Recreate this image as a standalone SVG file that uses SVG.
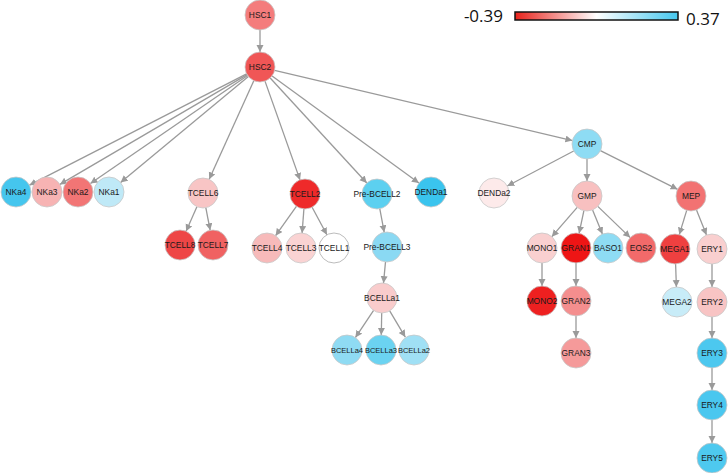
<svg xmlns="http://www.w3.org/2000/svg" width="728" height="473" viewBox="0 0 728 473">
<style>
.e{stroke:#9a9a9a;stroke-width:1.3;fill:none;marker-end:url(#ah)}
.n circle{stroke:#c8c8c8;stroke-width:0.8}
.n text{font-family:"Liberation Sans",Arial,sans-serif;font-size:8.4px;fill:#1a1a1a;text-anchor:middle;dominant-baseline:central}
.n text.s{font-size:7.5px}
.lg{font-family:"Open Sans","Liberation Sans",sans-serif;font-size:17px;fill:#111}
</style>
<defs>
<marker id="ah" markerUnits="userSpaceOnUse" markerWidth="8" markerHeight="8" refX="7" refY="3.5" orient="auto">
<path d="M0,0 L7,3.5 L0,7 Z" fill="#9a9a9a"/>
</marker>
<linearGradient id="cb" x1="0" y1="0" x2="1" y2="0">
<stop offset="0" stop-color="#e8231c"/>
<stop offset="0.5" stop-color="#ffffff"/>
<stop offset="1" stop-color="#45c7ee"/>
</linearGradient>
</defs>
<rect width="728" height="473" fill="#fff"/>
<g id="legend">
<text class="lg" x="503" y="22" text-anchor="end">-0.39</text>
<rect x="515" y="12" width="163" height="8" fill="url(#cb)" stroke="#111" stroke-width="1.5"/>
<text class="lg" x="686" y="25">0.37</text>
</g>
<g id="edges">
<line class="e" x1="260" y1="30" x2="260" y2="52"/>
<line class="e" x1="246.6" y1="73.8" x2="29.4" y2="185.2"/>
<line class="e" x1="247.1" y1="74.6" x2="59.9" y2="184.4"/>
<line class="e" x1="247.6" y1="75.5" x2="90.4" y2="183.5"/>
<line class="e" x1="248.4" y1="76.6" x2="120.6" y2="182.4"/>
<line class="e" x1="253.8" y1="80.7" x2="209.2" y2="179.3"/>
<line class="e" x1="265" y1="81.1" x2="300" y2="179.9"/>
<line class="e" x1="270.2" y1="78" x2="366.8" y2="183"/>
<line class="e" x1="272.1" y1="75.9" x2="418.9" y2="183.1"/>
<line class="e" x1="274.6" y1="70.4" x2="572.4" y2="140.6"/>
<line class="e" x1="196.9" y1="206.7" x2="186.1" y2="231.3"/>
<line class="e" x1="205.8" y1="207.7" x2="210.2" y2="230.3"/>
<line class="e" x1="296.4" y1="206.3" x2="275.6" y2="235.7"/>
<line class="e" x1="303.9" y1="209" x2="302.1" y2="233"/>
<line class="e" x1="312.1" y1="207.2" x2="326.9" y2="234.8"/>
<line class="e" x1="379.8" y1="208.7" x2="384.2" y2="232.3"/>
<line class="e" x1="385.5" y1="261.9" x2="383.5" y2="283.1"/>
<line class="e" x1="373.6" y1="310.4" x2="355.4" y2="337.6"/>
<line class="e" x1="381.7" y1="313" x2="381.3" y2="335"/>
<line class="e" x1="389.7" y1="310.9" x2="405.3" y2="337.1"/>
<line class="e" x1="573.7" y1="151" x2="507.3" y2="186"/>
<line class="e" x1="587" y1="159" x2="587" y2="181"/>
<line class="e" x1="600.4" y1="150.7" x2="677.6" y2="189.3"/>
<line class="e" x1="577.2" y1="207.3" x2="551.8" y2="236.7"/>
<line class="e" x1="583.9" y1="210.7" x2="579.1" y2="233.3"/>
<line class="e" x1="592.6" y1="209.9" x2="602.4" y2="234.1"/>
<line class="e" x1="597.8" y1="206.4" x2="630.2" y2="237.6"/>
<line class="e" x1="542" y1="263" x2="542" y2="286"/>
<line class="e" x1="576" y1="263" x2="576" y2="286"/>
<line class="e" x1="576" y1="316" x2="576" y2="338"/>
<line class="e" x1="686.7" y1="210.4" x2="679.3" y2="234.6"/>
<line class="e" x1="696.5" y1="210" x2="706.5" y2="235"/>
<line class="e" x1="675.6" y1="264" x2="676.4" y2="287"/>
<line class="e" x1="712" y1="264" x2="712" y2="287"/>
<line class="e" x1="712" y1="317" x2="712" y2="338"/>
<line class="e" x1="712" y1="368" x2="712" y2="390"/>
<line class="e" x1="712" y1="420" x2="712" y2="443"/>
</g>
<g id="HSC1" class="n"><circle cx="260" cy="15" r="15" fill="#f47c7c"/><text x="260" y="15">HSC1</text></g>
<g id="HSC2" class="n"><circle cx="260" cy="67" r="15" fill="#f05656"/><text x="260" y="67">HSC2</text></g>
<g id="NKa4" class="n"><circle cx="16" cy="192" r="15" fill="#45c6ee"/><text x="16" y="192">NKa4</text></g>
<g id="NKa3" class="n"><circle cx="47" cy="192" r="15" fill="#f7b3b3"/><text x="47" y="192">NKa3</text></g>
<g id="NKa2" class="n"><circle cx="78" cy="192" r="15" fill="#f27575"/><text x="78" y="192">NKa2</text></g>
<g id="NKa1" class="n"><circle cx="109" cy="192" r="15" fill="#bfe9f7"/><text x="109" y="192">NKa1</text></g>
<g id="TCELL6" class="n"><circle cx="203" cy="193" r="15" fill="#f8c5c5"/><text x="203" y="193">TCELL6</text></g>
<g id="TCELL8" class="n"><circle cx="180" cy="245" r="15" fill="#ee4646"/><text x="180" y="245">TCELL8</text></g>
<g id="TCELL7" class="n"><circle cx="213" cy="245" r="15" fill="#f06262"/><text x="213" y="245">TCELL7</text></g>
<g id="TCELL2" class="n"><circle cx="305" cy="194" r="15" fill="#ee2a2a"/><text x="305" y="194">TCELL2</text></g>
<g id="TCELL4" class="n"><circle cx="267" cy="248" r="15" fill="#f7baba"/><text x="267" y="248">TCELL4</text></g>
<g id="TCELL3" class="n"><circle cx="301" cy="248" r="15" fill="#fad3d3"/><text x="301" y="248">TCELL3</text></g>
<g id="TCELL1" class="n"><circle cx="334" cy="248" r="15" fill="#ffffff" style="stroke:#aaa"/><text x="334" y="248">TCELL1</text></g>
<g id="Pre-BCELL2" class="n"><circle cx="377" cy="194" r="15" fill="#5cd0f0"/><text x="377" y="194">Pre-BCELL2</text></g>
<g id="DENDa1" class="n"><circle cx="431" cy="192" r="15" fill="#3ac4ee"/><text x="431" y="192">DENDa1</text></g>
<g id="Pre-BCELL3" class="n"><circle cx="387" cy="247" r="15" fill="#8ad9f3"/><text x="387" y="247">Pre-BCELL3</text></g>
<g id="BCELLa1" class="n"><circle cx="382" cy="298" r="15" fill="#f9cccc"/><text x="382" y="298">BCELLa1</text></g>
<g id="BCELLa4" class="n"><circle cx="347" cy="350" r="15" fill="#8fdbf3"/><text class="s" x="347" y="350">BCELLa4</text></g>
<g id="BCELLa3" class="n"><circle cx="381" cy="350" r="15" fill="#6bd3f1"/><text class="s" x="381" y="350">BCELLa3</text></g>
<g id="BCELLa2" class="n"><circle cx="414" cy="350" r="15" fill="#a0e0f5"/><text class="s" x="414" y="350">BCELLa2</text></g>
<g id="CMP" class="n"><circle cx="587" cy="144" r="15" fill="#8edcf4"/><text x="587" y="144">CMP</text></g>
<g id="DENDa2" class="n"><circle cx="494" cy="193" r="15" fill="#fdeaea"/><text x="494" y="193">DENDa2</text></g>
<g id="GMP" class="n"><circle cx="587" cy="196" r="15" fill="#f8c0c0"/><text x="587" y="196">GMP</text></g>
<g id="MEP" class="n"><circle cx="691" cy="196" r="15" fill="#f27272"/><text x="691" y="196">MEP</text></g>
<g id="MONO1" class="n"><circle cx="542" cy="248" r="15" fill="#f9d0d0"/><text x="542" y="248">MONO1</text></g>
<g id="GRAN1" class="n"><circle cx="576" cy="248" r="15" fill="#ee1515"/><text x="576" y="248">GRAN1</text></g>
<g id="BASO1" class="n"><circle cx="608" cy="248" r="15" fill="#8edcf4"/><text x="608" y="248">BASO1</text></g>
<g id="EOS2" class="n"><circle cx="641" cy="248" r="15" fill="#f26a6a"/><text x="641" y="248">EOS2</text></g>
<g id="MONO2" class="n"><circle cx="542" cy="301" r="15" fill="#ee2020"/><text x="542" y="301">MONO2</text></g>
<g id="GRAN2" class="n"><circle cx="576" cy="301" r="15" fill="#f48e8e"/><text x="576" y="301">GRAN2</text></g>
<g id="GRAN3" class="n"><circle cx="576" cy="353" r="15" fill="#f59a9a"/><text x="576" y="353">GRAN3</text></g>
<g id="MEGA1" class="n"><circle cx="675" cy="249" r="15" fill="#ef4040"/><text x="675" y="249">MEGA1</text></g>
<g id="ERY1" class="n"><circle cx="712" cy="249" r="15" fill="#f9cfcf"/><text x="712" y="249">ERY1</text></g>
<g id="MEGA2" class="n"><circle cx="677" cy="302" r="15" fill="#c8ecf8"/><text x="677" y="302">MEGA2</text></g>
<g id="ERY2" class="n"><circle cx="712" cy="302" r="15" fill="#f8c4c4"/><text x="712" y="302">ERY2</text></g>
<g id="ERY3" class="n"><circle cx="712" cy="353" r="15" fill="#4cc8ef"/><text x="712" y="353">ERY3</text></g>
<g id="ERY4" class="n"><circle cx="712" cy="405" r="15" fill="#4ac7ef"/><text x="712" y="405">ERY4</text></g>
<g id="ERY5" class="n"><circle cx="712" cy="458" r="15" fill="#4ec9ef"/><text x="712" y="458">ERY5</text></g>
</svg>
